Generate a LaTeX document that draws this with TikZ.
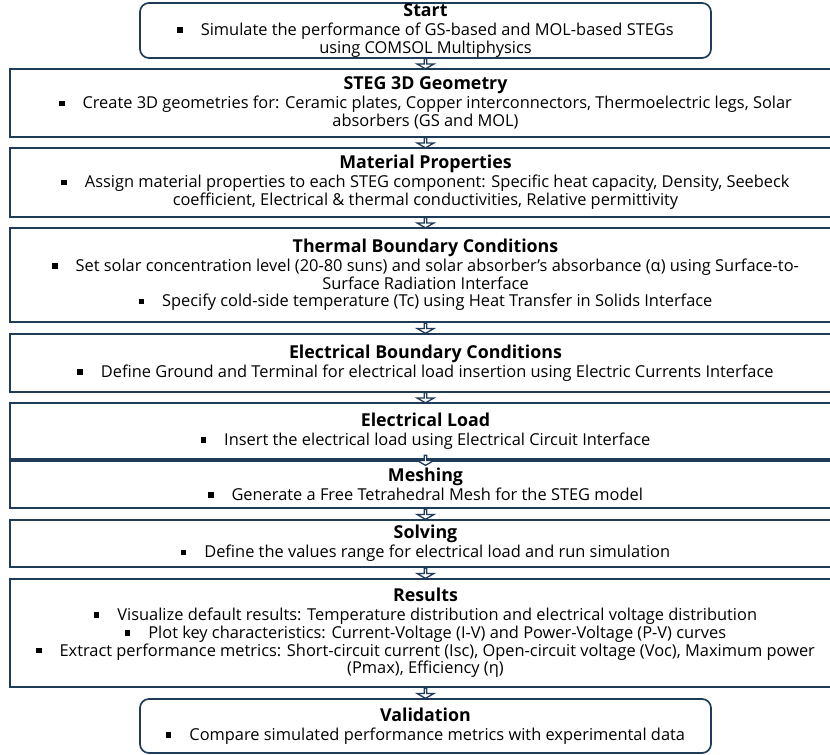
\documentclass[tikz,border=0pt]{standalone}
\usepackage{fontspec}
\setmainfont{Open Sans}
\usetikzlibrary{positioning,shapes.arrows}
\definecolor{navy}{HTML}{1F3B57}
\newcommand{\sqbul}{\rule[0.3ex]{5.5pt}{5.5pt}\hspace{18pt}}
\newcommand{\ttl}[1]{{\fontsize{17.8}{19}\selectfont\bfseries #1}\\[1pt]}
\tikzset{%
	% boxes of the work flow
	base/.style = {rectangle, draw=navy, line width=1.7pt, align=center,
	inner sep=0pt, outer sep=0pt, font=\fontsize{16.4}{17.8}\selectfont, text=black},
	stage/.style = {base, minimum width=831pt},
	startend/.style = {base, rounded corners=9pt, minimum width=571pt},
	flowarr/.style = {single arrow, draw=navy, fill=white, line width=1.3pt,
	minimum height=10pt, minimum width=17pt, single arrow head extend=4pt,
	single arrow tip angle=120, inner sep=0pt, shape border rotate=270}
}
\begin{document}
\begin{tikzpicture}[x=1pt,y=1pt,node distance=11pt]
	\clip (0,0) rectangle (830,-755);
	% Specification of nodes (position, etc.)
	\node (start)   [startend, minimum height=55pt] at (425.5,-30.5)
	{\ttl{Start} \sqbul Simulate the performance of GS-based and MOL-based STEGs\\ using COMSOL Multiphysics};
	\node (geom)    [stage, minimum height=68pt, below=11pt of start]
	{\ttl{STEG 3D Geometry} \sqbul Create 3D geometries for: Ceramic plates, Copper interconnectors, Thermoelectric legs, Solar\\ absorbers (GS and MOL)};
	\node (mat)     [stage, minimum height=69pt, below=11pt of geom]
	{\ttl{Material Properties} \sqbul Assign material properties to each STEG component: Specific heat capacity, Density, Seebeck\\ coefficient, Electrical \& thermal conductivities, Relative permittivity};
	\node (thermal) [stage, minimum height=94pt, below=11pt of mat]
	{\ttl{Thermal Boundary Conditions} \sqbul Set solar concentration level (20-80 suns) and solar absorber’s absorbance (α) using Surface-to-\\ Surface Radiation Interface\\ \sqbul Specify cold-side temperature (Tc) using Heat Transfer in Solids Interface};
	\node (elecbc)  [stage, minimum height=58pt, below=12pt of thermal]
	{\ttl{Electrical Boundary Conditions} \sqbul Define Ground and Terminal for electrical load insertion using Electric Currents Interface};
	\node (load)    [stage, minimum height=56pt, below=11pt of elecbc]
	{\ttl{Electrical Load} \sqbul Insert the electrical load using Electrical Circuit Interface};
	\node (mesh)    [stage, minimum height=47pt, below=2pt of load]
	{\ttl{Meshing} \sqbul Generate a Free Tetrahedral Mesh for the STEG model};
	\node (solve)   [stage, minimum height=47pt, below=12pt of mesh]
	{\ttl{Solving} \sqbul Define the values range for electrical load and run simulation};
	\node (results) [stage, minimum height=108pt, below=12pt of solve]
	{\ttl{Results} \sqbul Visualize default results: Temperature distribution and electrical voltage distribution\\ \sqbul Plot key characteristics: Current-Voltage (I-V) and Power-Voltage (P-V) curves\\ \sqbul Extract performance metrics: Short-circuit current (Isc), Open-circuit voltage (Voc), Maximum power\\ (Pmax), Efficiency (η)};
	\node (valid)   [startend, minimum height=54pt, below=12pt of results.south -| start]
	{\ttl{Validation} \sqbul Compare simulated performance metrics with experimental data};
	% block arrows between the stages
	\foreach \a/\b in {start/geom,geom/mat,mat/thermal,thermal/elecbc,elecbc/load,
		load/mesh,mesh/solve,solve/results}
	\path (\a.south) -- node[flowarr]{} (\b.north);
	\path (results.south -| valid) -- node[flowarr]{} (valid.north);
\end{tikzpicture}
\end{document}
